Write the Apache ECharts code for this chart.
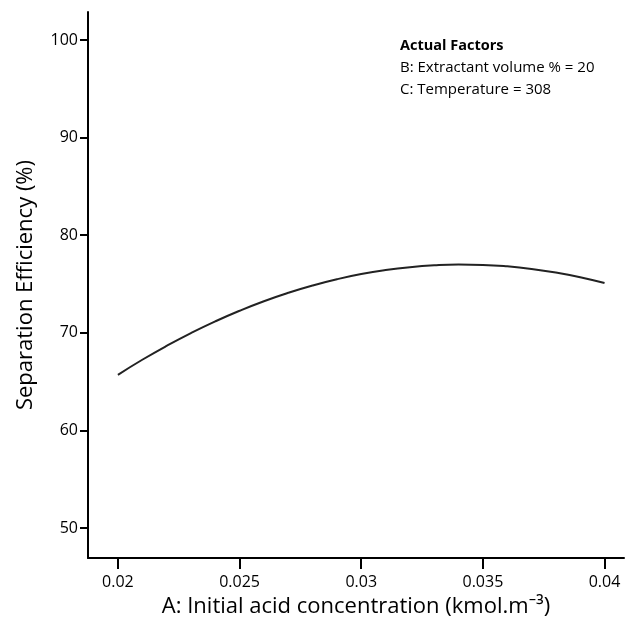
<!DOCTYPE html>
<html>
<head>
<meta charset="utf-8">
<script src="https://cdn.jsdelivr.net/npm/echarts@6/dist/echarts.min.js"></script>
<style>
  html, body { margin: 0; padding: 0; background: #fff; }
  #chart { width: 626px; height: 623px; }
</style>
</head>
<body>
<div id="chart"></div>
<script>
// initial acid concentration (kmol.m-3)
var concentration = [0.020, 0.021, 0.022, 0.023, 0.024, 0.025, 0.026, 0.027, 0.028, 0.029, 0.030,
                     0.031, 0.032, 0.033, 0.034, 0.035, 0.036, 0.037, 0.038, 0.039, 0.040];
// separation efficiency (%)
var efficiency = [65.70, 67.24, 68.66, 69.97, 71.17, 72.26, 73.24, 74.10, 74.85, 75.49, 76.02,
                  76.43, 76.73, 76.92, 77.00, 76.96, 76.81, 76.55, 76.18, 75.70, 75.10];
var xTicks = [0.02, 0.025, 0.03, 0.035, 0.04];
var yTicks = [50, 60, 70, 80, 90, 100];
var factorTitle = 'Actual Factors';
var factorLines = ['B: Extractant volume % = 20', 'C: Temperature = 308'];

var pts = [];
for (var i = 0; i < concentration.length; i++) {
  pts.push([concentration[i], efficiency[i]]);
}

var font = '"Open Sans", "Noto Sans", sans-serif';
var chart = echarts.init(document.getElementById('chart'));
chart.setOption({
  animation: false,
  grid: { left: 88, right: 2, top: 12, bottom: 65, outerBoundsMode: 'none' },
  xAxis: {
    type: 'value',
    min: 0.01877,
    max: 0.0408,
    name: 'A: Initial acid concentration (kmol.m\u207B\u00B3)',
    nameLocation: 'middle',
    nameGap: 38,
    nameTextStyle: { fontFamily: font, fontSize: 22, color: '#000' },
    axisLine: { show: true, lineStyle: { color: '#000', width: 2 } },
    axisTick: { show: true, length: 11, lineStyle: { color: '#000', width: 2 },
      customValues: xTicks },
    axisLabel: { fontFamily: font, fontSize: 16, color: '#000', margin: 16,
      customValues: xTicks,
      formatter: function (v) { return String(+v.toFixed(3)); } },
    splitLine: { show: false }
  },
  yAxis: {
    type: 'value',
    min: 46.93,
    max: 102.87,
    name: 'Separation Efficiency (%)',
    nameLocation: 'middle',
    nameGap: 51,
    nameTextStyle: { fontFamily: font, fontSize: 22, color: '#000' },
    axisLine: { show: true, lineStyle: { color: '#000', width: 2 } },
    axisTick: { show: true, length: 8, lineStyle: { color: '#000', width: 2 },
      customValues: yTicks },
    axisLabel: { fontFamily: font, fontSize: 16, color: '#000', margin: 10,
      customValues: yTicks },
    splitLine: { show: false }
  },
  series: [{
    type: 'line',
    data: pts,
    smooth: true,
    showSymbol: false,
    lineStyle: { color: '#222', width: 2 }
  }],
  graphic: [
    { type: 'text', left: 400, top: 38,
      style: { text: factorTitle, fontFamily: font, fontSize: 14.5, fontWeight: 'bold', fill: '#000' } },
    { type: 'text', left: 400, top: 60,
      style: { text: factorLines[0], fontFamily: font, fontSize: 15, fill: '#000' } },
    { type: 'text', left: 400, top: 82,
      style: { text: factorLines[1], fontFamily: font, fontSize: 15, fill: '#000' } }
  ]
});
window.addEventListener('resize', function () { chart.resize(); });
</script>
</body>
</html>
